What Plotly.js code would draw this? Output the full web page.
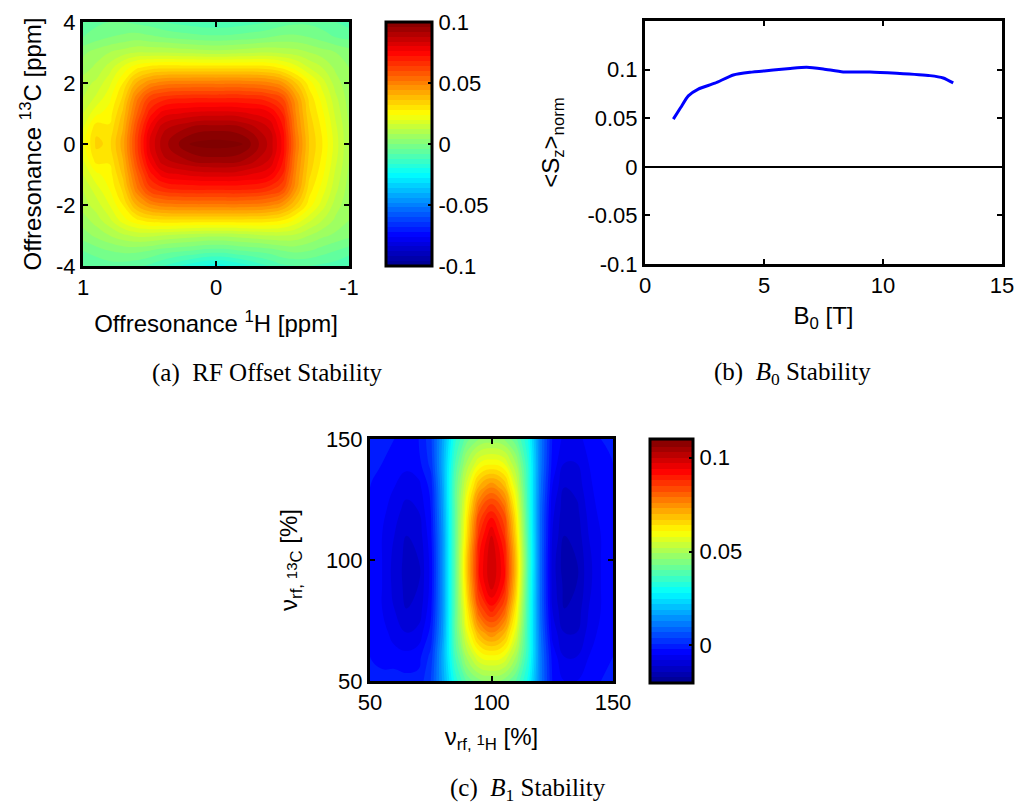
<!DOCTYPE html>
<html>
<head>
<meta charset="utf-8">
<script src="https://cdn.plot.ly/plotly-3.0.1.min.js"></script>
<style>html,body{margin:0;padding:0;background:#fff;}#chart{width:1019px;height:805px;}</style>
</head>
<body>
<div id="chart"></div>
<script>
// ---- (a) RF offset stability ----
const aX = [1, 0.9, 0.8, 0.7, 0.6, 0.5, 0.4, 0.2, 0, -0.2, -0.4, -0.5, -0.6, -0.7, -0.8, -0.9, -1];
const aY = [-4, -3.5, -3, -2.5, -2, -1.5, -1, -0.5, 0, 0.5, 1, 1.5, 2, 2.5, 3, 3.5, 4];
const aZ = [
  [-0.008,-0.007,-0.006,-0.006,-0.007,-0.009,-0.012,-0.018,-0.022,-0.018,-0.012,-0.009,-0.008,-0.008,-0.009,-0.010,-0.012],
  [-0.004,-0.002,0.000,0.001,0.001,0.000,-0.002,-0.004,-0.006,-0.004,-0.002,0.000,0.001,0.000,-0.002,-0.004,-0.006],
  [0.002,0.005,0.008,0.011,0.013,0.013,0.012,0.010,0.009,0.010,0.012,0.012,0.011,0.008,0.005,0.003,0.001],
  [0.006,0.010,0.015,0.022,0.027,0.030,0.031,0.031,0.031,0.031,0.030,0.028,0.023,0.017,0.012,0.007,0.004],
  [0.010,0.014,0.020,0.028,0.040,0.047,0.050,0.051,0.051,0.051,0.049,0.045,0.036,0.026,0.018,0.010,0.005],
  [0.012,0.018,0.024,0.033,0.050,0.062,0.066,0.068,0.068,0.068,0.065,0.060,0.045,0.030,0.022,0.013,0.006],
  [0.016,0.023,0.026,0.037,0.055,0.070,0.078,0.081,0.082,0.081,0.077,0.068,0.048,0.033,0.025,0.015,0.007],
  [0.020,0.030,0.029,0.040,0.060,0.077,0.087,0.093,0.095,0.093,0.084,0.073,0.050,0.035,0.027,0.017,0.008],
  [0.022,0.033,0.031,0.042,0.062,0.080,0.090,0.100,0.102,0.100,0.087,0.075,0.052,0.036,0.028,0.018,0.008],
  [0.020,0.031,0.029,0.040,0.060,0.077,0.087,0.093,0.095,0.093,0.084,0.073,0.050,0.035,0.027,0.017,0.008],
  [0.016,0.023,0.026,0.037,0.055,0.070,0.078,0.081,0.082,0.081,0.077,0.068,0.048,0.033,0.025,0.015,0.007],
  [0.012,0.017,0.023,0.033,0.050,0.062,0.066,0.068,0.068,0.068,0.065,0.060,0.045,0.031,0.022,0.013,0.006],
  [0.010,0.013,0.019,0.028,0.040,0.047,0.050,0.051,0.051,0.051,0.049,0.045,0.036,0.026,0.018,0.010,0.005],
  [0.006,0.009,0.014,0.021,0.027,0.030,0.031,0.031,0.031,0.031,0.030,0.027,0.022,0.016,0.012,0.007,0.004],
  [0.003,0.006,0.008,0.010,0.012,0.012,0.012,0.011,0.010,0.011,0.012,0.011,0.010,0.008,0.006,0.004,0.002],
  [-0.004,-0.002,0.000,0.001,0.002,0.001,0.000,-0.002,-0.003,-0.002,0.000,0.001,0.001,0.000,-0.002,-0.004,-0.005],
  [-0.006,-0.005,-0.004,-0.004,-0.005,-0.006,-0.008,-0.010,-0.011,-0.010,-0.008,-0.006,-0.005,-0.005,-0.006,-0.008,-0.010]
];
const aXTicks = [1, 0, -1];
const aXTickText = ['1', '0', '-1'];
const aYTicks = [-4, -2, 0, 2, 4];
const aYTickText = ['-4', '-2', '0', '2', '4'];
const aCbTicks = [-0.1, -0.05, 0, 0.05, 0.1];
const aCbTickText = ['-0.1', '-0.05', '0', '0.05', '0.1'];

// ---- (b) B0 stability ----
const bX = [1.19, 1.5, 1.82, 2.24, 2.94, 3.71, 4.41, 5.39, 6.1, 6.79, 7.49, 8.33, 9.45, 10.57, 11.97, 12.53, 12.95];
const bY = [0.049, 0.061, 0.073, 0.080, 0.086, 0.0945, 0.0973, 0.0995, 0.1012, 0.1024, 0.1007, 0.0976, 0.0976, 0.0962, 0.0938, 0.0914, 0.0863];
const bXTicks = [0, 5, 10, 15];
const bYTicks = [-0.1, -0.05, 0, 0.05, 0.1];
const bYTickText = ['-0.1', '-0.05', '0', '0.05', '0.1'];

// ---- (c) B1 stability ----
const cX = [50,55,60,65,70,75,80,85,90,95,100,105,110,115,120,125,130,135,140,145,150];
const cY = [50,60,70,80,90,100,110,120,130,140,150];
const cZ = [
  [-0.001,-0.001,0.000,-0.001,-0.001,0.004,0.017,0.032,0.041,0.045,0.046,0.045,0.040,0.030,0.012,-0.002,-0.005,-0.005,-0.003,-0.002,-0.001],
  [-0.002,-0.003,-0.004,-0.004,-0.003,0.002,0.018,0.037,0.050,0.058,0.060,0.058,0.049,0.034,0.012,-0.003,-0.008,-0.008,-0.005,-0.003,-0.002],
  [-0.002,-0.004,-0.006,-0.008,-0.007,-0.001,0.016,0.040,0.058,0.071,0.076,0.071,0.057,0.035,0.011,-0.006,-0.011,-0.011,-0.007,-0.004,-0.003],
  [-0.003,-0.005,-0.008,-0.011,-0.010,-0.003,0.015,0.040,0.063,0.083,0.090,0.083,0.063,0.036,0.010,-0.008,-0.014,-0.013,-0.008,-0.005,-0.003],
  [-0.003,-0.005,-0.009,-0.012,-0.011,-0.004,0.015,0.040,0.067,0.090,0.099,0.091,0.068,0.037,0.010,-0.009,-0.015,-0.014,-0.009,-0.005,-0.003],
  [-0.003,-0.005,-0.009,-0.012,-0.011,-0.004,0.015,0.040,0.068,0.091,0.100,0.092,0.069,0.038,0.010,-0.009,-0.016,-0.014,-0.009,-0.005,-0.003],
  [-0.003,-0.005,-0.008,-0.011,-0.010,-0.003,0.015,0.040,0.065,0.088,0.097,0.088,0.066,0.037,0.010,-0.008,-0.014,-0.013,-0.008,-0.005,-0.003],
  [-0.002,-0.004,-0.007,-0.009,-0.008,-0.002,0.016,0.040,0.062,0.082,0.089,0.082,0.062,0.036,0.010,-0.007,-0.013,-0.012,-0.007,-0.004,-0.002],
  [-0.002,-0.003,-0.005,-0.007,-0.006,-0.001,0.017,0.040,0.057,0.071,0.076,0.071,0.056,0.035,0.011,-0.005,-0.011,-0.010,-0.006,-0.003,-0.002],
  [-0.001,-0.002,-0.003,-0.004,-0.003,0.002,0.018,0.037,0.050,0.058,0.060,0.058,0.049,0.034,0.012,-0.003,-0.008,-0.008,-0.005,-0.003,-0.002],
  [-0.001,-0.001,-0.002,-0.003,-0.002,0.003,0.017,0.033,0.042,0.046,0.047,0.046,0.041,0.031,0.012,-0.002,-0.006,-0.006,-0.004,-0.002,-0.001]
];
const cTicks = [50, 100, 150];
const cCbTicks = [0, 0.05, 0.1];
const cCbTickText = ['0', '0.05', '0.1'];

const captions = ['(a) \u00a0RF Offset Stability', '(b) \u00a0<i>B</i><sub>0</sub> Stability', '(c) \u00a0<i>B</i><sub>1</sub> Stability'];

const jet = [[0,'rgb(0,0,143)'],[0.125,'rgb(0,0,255)'],[0.375,'rgb(0,255,255)'],[0.625,'rgb(255,255,0)'],[0.875,'rgb(255,0,0)'],[1,'rgb(128,0,0)']];
const W = 1019, H = 805;
const FONT = 'Liberation Sans, Arial, Helvetica, sans-serif';
const SERIF = 'Liberation Serif, Times New Roman, serif';
const TICK = 22, TITLE = 24;

function axBase(extra) {
  return Object.assign({
    showline: true, linecolor: 'black', linewidth: 3, mirror: 'ticks',
    ticks: 'inside', ticklen: 5, tickwidth: 2, tickcolor: 'black',
    showgrid: false, zeroline: false, fixedrange: true,
    tickfont: {family: FONT, size: TICK, color: 'black'}, automargin: false
  }, extra);
}
function cb(x0, x1, y0, y1, tv, tt) {
  return {
    x: x0 / W, xanchor: 'left', xref: 'paper',
    thickness: x1 - x0, thicknessmode: 'pixels',
    len: (y1 - y0) / H, lenmode: 'fraction',
    y: 1 - (y0 + y1) / 2 / H, yanchor: 'middle', yref: 'paper',
    xpad: 0, ypad: 0,
    outlinewidth: 3, outlinecolor: 'black',
    ticks: 'inside', ticklen: 5, tickwidth: 2, tickcolor: 'black',
    tickvals: tv, ticktext: tt,
    tickfont: {family: FONT, size: TICK, color: 'black'}
  };
}

const traces = [
  {
    type: 'contour', x: aX, y: aY, z: aZ, xaxis: 'x', yaxis: 'y',
    colorscale: jet, zmin: -0.1, zmax: 0.1, zauto: false,
    autocontour: false,
    contours: {start: -0.1, end: 0.1, size: 0.004, coloring: 'fill', showlines: false},
    line: {width: 0, smoothing: 1.3},
    colorbar: cb(386, 432, 22, 266, aCbTicks, aCbTickText),
    hoverinfo: 'skip'
  },
  {
    type: 'scatter', mode: 'lines', x: bX, y: bY, xaxis: 'x2', yaxis: 'y2',
    line: {color: 'rgb(0,0,255)', width: 3, shape: 'spline', smoothing: 0.6},
    showlegend: false, hoverinfo: 'skip'
  },
  {
    type: 'contour', x: cX, y: cY, z: cZ, xaxis: 'x3', yaxis: 'y3',
    colorscale: jet, zmin: -0.02, zmax: 0.11, zauto: false,
    autocontour: false,
    contours: {start: -0.02, end: 0.11, size: 0.003, coloring: 'fill', showlines: false},
    line: {width: 0, smoothing: 1.3},
    colorbar: cb(650, 693, 439, 683, cCbTicks, cCbTickText),
    hoverinfo: 'skip'
  }
];

function tf(text, standoff) { return {text: text, standoff: standoff, font: {family: FONT, size: TITLE, color: 'black'}}; }
const SMALL = "<span style='font-size:15px'>";

const layout = {
  width: W, height: H,
  margin: {l: 0, r: 0, t: 0, b: 0},
  paper_bgcolor: 'white', plot_bgcolor: 'white',
  showlegend: false,
  font: {family: FONT, size: TICK, color: 'black'},
  xaxis: axBase({domain: [83 / W, 349 / W], range: [1, -1], tickvals: aXTicks, ticktext: aXTickText, anchor: 'y',
    title: tf('Offresonance <sup>1</sup>H [ppm]', 16)}),
  yaxis: axBase({domain: [1 - 266 / H, 1 - 22 / H], range: [-4, 4], tickvals: aYTicks, ticktext: aYTickText, anchor: 'x',
    title: tf('Offresonance <sup>13</sup>C [ppm]', 8)}),
  xaxis2: axBase({domain: [645 / W, 1002 / W], range: [0, 15], tickvals: bXTicks, anchor: 'y2',
    title: tf('B<sub>0</sub> [T]', 10)}),
  yaxis2: axBase({domain: [1 - 264 / H, 1 - 21 / H], range: [-0.1, 0.15], tickvals: bYTicks, ticktext: bYTickText, anchor: 'x2',
    zeroline: true, zerolinecolor: 'black', zerolinewidth: 2,
    title: tf('&lt;S<sub>z</sub>&gt;<sub>norm</sub>', 22)}),
  xaxis3: axBase({domain: [370 / W, 613 / W], range: [50, 150], tickvals: cTicks, anchor: 'y3',
    title: tf('\u03bd<sub>rf,</sub>\u2009' + SMALL + '1</span><sub>H</sub> [%]', 14)}),
  yaxis3: axBase({domain: [1 - 681 / H, 1 - 439 / H], range: [50, 150], tickvals: cTicks, anchor: 'x3',
    title: tf('\u03bd<sub>rf,</sub>\u2009' + SMALL + '13</span><sub>C</sub> [%]', 22)}),
  annotations: [
    {text: captions[0], x: 267 / W, y: 1 - 373 / H, xref: 'paper', yref: 'paper', showarrow: false,
      font: {family: SERIF, size: 25, color: 'black'}, xanchor: 'center', yanchor: 'middle'},
    {text: captions[1], x: 792 / W, y: 1 - 373 / H, xref: 'paper', yref: 'paper', showarrow: false,
      font: {family: SERIF, size: 25, color: 'black'}, xanchor: 'center', yanchor: 'middle'},
    {text: captions[2], x: 528 / W, y: 1 - 789 / H, xref: 'paper', yref: 'paper', showarrow: false,
      font: {family: SERIF, size: 25, color: 'black'}, xanchor: 'center', yanchor: 'middle'}
  ]
};

Plotly.newPlot('chart', traces, layout, {staticPlot: true, displayModeBar: false});
</script>
</body>
</html>
